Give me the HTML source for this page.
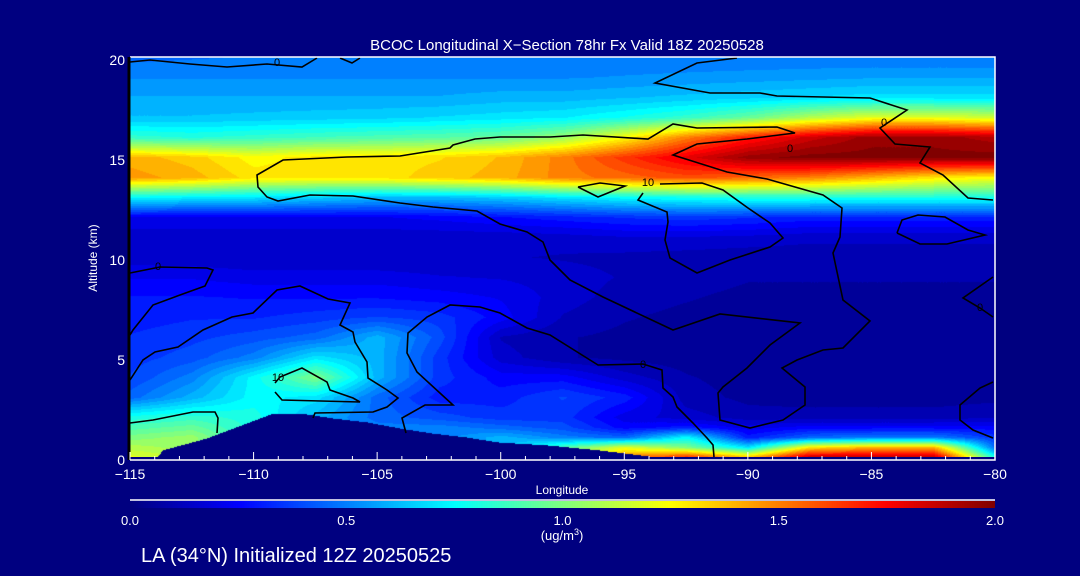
<!DOCTYPE html>
<html><head><meta charset="utf-8"><style>
html,body{margin:0;padding:0;background:#000080;width:1080px;height:576px;overflow:hidden}
#wrap{position:relative;width:1080px;height:576px}
#plot{position:absolute;left:130px;top:57px}
#ov{position:absolute;left:0;top:0}
text{font-family:"Liberation Sans",sans-serif;fill:#fff}
</style></head><body>
<div id="wrap">
<canvas id="plot" width="865" height="400"></canvas>
<canvas id="cbar" width="865" height="7" style="position:absolute;left:130px;top:501px"></canvas>
<svg id="ov" width="1080" height="576"></svg>
</div>
<script>
const lons=[-115,-112.5,-110,-107.5,-105,-102.5,-100,-97.5,-95,-92.5,-90,-87.5,-85,-82.5,-80];
const alts=[0,0.5,1,1.5,2,3,4,5,6,7,8,9,10,11,12,13,14,15,16,17,18,19,20];
const conc=[
[1.2,1.1,0.8,0.6,0.5,0.5,0.6,1.0,1.5,1.7,1.4,1.9,1.9,1.9,0.8],
[1.1,1.05,0.8,0.6,0.5,0.5,0.6,0.9,1.2,1.0,0.7,1.3,1.4,1.4,0.45],
[1.0,1.05,0.8,0.6,0.5,0.5,0.6,0.5,0.45,0.75,0.3,0.45,0.5,0.5,0.35],
[0.9,0.95,0.8,0.6,0.5,0.5,0.45,0.4,0.25,0.3,0.2,0.25,0.25,0.25,0.25],
[0.8,0.85,0.8,0.6,0.45,0.4,0.35,0.35,0.2,0.15,0.1,0.1,0.1,0.1,0.12],
[0.45,0.6,0.75,0.7,0.45,0.3,0.3,0.38,0.3,0.1,0.06,0.05,0.05,0.05,0.06],
[0.38,0.5,0.75,1.0,0.6,0.35,0.25,0.25,0.15,0.08,0.05,0.05,0.05,0.05,0.05],
[0.35,0.4,0.5,0.7,0.6,0.35,0.15,0.08,0.06,0.05,0.05,0.05,0.05,0.05,0.05],
[0.33,0.36,0.4,0.45,0.6,0.4,0.12,0.08,0.06,0.05,0.05,0.05,0.05,0.05,0.05],
[0.3,0.32,0.32,0.35,0.38,0.35,0.25,0.12,0.08,0.06,0.05,0.05,0.05,0.05,0.05],
[0.28,0.28,0.27,0.27,0.27,0.25,0.22,0.15,0.1,0.08,0.06,0.06,0.06,0.06,0.06],
[0.22,0.22,0.2,0.2,0.2,0.18,0.17,0.15,0.12,0.1,0.08,0.08,0.08,0.08,0.08],
[0.15,0.14,0.13,0.13,0.13,0.13,0.13,0.12,0.11,0.1,0.09,0.09,0.09,0.09,0.09],
[0.14,0.14,0.14,0.14,0.14,0.14,0.14,0.15,0.17,0.17,0.16,0.14,0.14,0.14,0.14],
[0.22,0.22,0.22,0.22,0.22,0.24,0.27,0.3,0.33,0.35,0.33,0.3,0.3,0.3,0.3],
[0.75,0.72,0.7,0.65,0.62,0.62,0.65,0.7,0.75,0.78,0.8,0.8,0.8,0.8,0.8],
[1.45,1.4,1.3,1.3,1.3,1.35,1.4,1.5,1.55,1.6,1.55,1.5,1.4,1.3,1.25],
[1.4,1.35,1.25,1.3,1.3,1.32,1.38,1.5,1.65,1.8,1.95,2.0,2.0,2.0,2.0],
[0.85,0.82,0.85,0.88,0.9,0.92,0.95,1.05,1.25,1.5,1.7,1.85,1.95,1.95,1.9],
[0.63,0.63,0.64,0.65,0.66,0.68,0.7,0.72,0.78,0.85,0.95,1.1,1.2,1.2,1.15],
[0.58,0.58,0.58,0.58,0.58,0.58,0.6,0.6,0.62,0.64,0.66,0.68,0.7,0.7,0.7],
[0.52,0.52,0.52,0.52,0.52,0.52,0.52,0.52,0.53,0.54,0.55,0.56,0.57,0.57,0.57],
[0.46,0.47,0.48,0.48,0.48,0.48,0.48,0.48,0.48,0.48,0.48,0.48,0.48,0.48,0.48]];
const terrLon=[-115,-113.9,-113.7,-111.9,-110.5,-109.2,-108.1,-106.8,-105.4,-104.1,-102.8,-101.4,-100.1,-98.1,-96,-94,-80];
const terrAlt=[0,0,0.35,0.95,1.6,2.2,2.2,1.95,1.75,1.45,1.2,1.0,0.75,0.6,0.35,0.05,0];
const xTicks=[-115,-110,-105,-100,-95,-90,-85,-80];
const yTicks=[0,5,10,15,20];
const cbTicks=[0.0,0.5,1.0,1.5,2.0];

const X0=130,X1=995,YB=457,YT=57;
const xs=l=>X0+(l+115)/35*(X1-X0);
const ys=a=>YB-(a/20)*(YB-YT);
function jet(v){const t=Math.max(0,Math.min(1,v/2));const c=x=>Math.max(0,Math.min(1,1.5-Math.abs(x)));
 return [c(4*t-3)*255,c(4*t-2)*255,c(4*t-1)*255];}
function seg(arr,v){let i=0;while(i<arr.length-2&&v>arr[i+1])i++;return [i,Math.max(0,Math.min(1,(v-arr[i])/(arr[i+1]-arr[i])))];}
function val(lon,alt){const [i,fx]=seg(lons,lon),[j,fy]=seg(alts,alt);
 const a=conc[j][i]*(1-fx)+conc[j][i+1]*fx,b=conc[j+1][i]*(1-fx)+conc[j+1][i+1]*fx;return a*(1-fy)+b*fy;}
function terr(lon){const [i,f]=seg(terrLon,lon);return terrAlt[i]*(1-f)+terrAlt[i+1]*f;}
// heatmap
const cv=document.getElementById('plot'),ctx=cv.getContext('2d'),W=cv.width,H=cv.height,img=ctx.createImageData(W,H);
for(let py=0;py<H;py++)for(let px=0;px<W;px++){
 const lon=-115+px/W*35,alt=(H-py)/H*20;let v=val(lon,alt);
 if(alt<terr(lon))v=0;v=Math.round(v/0.05)*0.05;
 const c=jet(v),k=(py*W+px)*4;img.data[k]=c[0];img.data[k+1]=c[1];img.data[k+2]=c[2];img.data[k+3]=255;}
ctx.putImageData(img,0,0);
const cb=document.getElementById('cbar'),cbx=cb.getContext('2d');
for(let px=0;px<cb.width;px++){const c=jet(px/(cb.width-1)*2);cbx.fillStyle=`rgb(${c[0]|0},${c[1]|0},${c[2]|0})`;cbx.fillRect(px,0,1,7);}
// overlay
const svg=document.getElementById('ov'),NS='http://www.w3.org/2000/svg';
function mk(t,at,txt){const e=document.createElementNS(NS,t);for(const k in at)e.setAttribute(k,at[k]);if(txt!==undefined)e.textContent=txt;svg.appendChild(e);return e;}
const contours=[
"130,62 150,60 190,64 227,67 267,64 302,67 317,58",
"340,58 352,63 360,58",
"737,58 697,63 655,83 710,93 760,93 777,96 870,98 907,110 880,128 895,144 930,147 920,163 943,175 968,198 993,200",
"550,137 500,137 475,139 453,145 450,148 400,156 347,157 283,160 257,175 258,187 267,197 278,201 310,195 353,196 400,203 433,207 477,211 500,224 527,232 543,242 550,260 570,280 603,297 673,330 720,314 800,323 770,345 747,368 723,387 718,393 720,420 750,428 783,420 805,405 805,387 782,368 797,360 823,350 843,348 870,321 843,300 833,253 840,237 842,208 823,195 767,179 727,172 673,155 697,144 747,139 795,133 777,127 697,128 673,124 648,139 583,135 550,137",
"578,187 600,183 625,186 598,197 578,187",
"660,184 702,183 723,190 748,208 770,223 783,238 770,247 730,260 697,273 670,258 665,240 668,222 667,212 638,200 643,193",
"897,233 902,220 918,215 945,217 968,230 985,235 947,244 920,244 897,233",
"993,277 963,298 980,308 993,317",
"993,382 980,388 960,405 960,420 973,430 993,438",
"130,273 160,267 207,268 213,270 205,286 180,295 153,305 133,330 130,335",
"130,380 143,360 155,352 178,347 203,330 232,317 253,313 277,290 300,286 328,299 350,303 340,325 353,332 355,342 367,362 368,378 387,390 398,398 387,407 373,412 315,413 313,418",
"406,433 402,418 425,405 453,405 417,372 407,353 408,333 427,317 450,305 480,307 500,313 527,328 550,335 598,365 643,364 662,370 663,388 673,397 677,407 693,423 707,438 713,445 714,457",
"275,392 282,400 360,402 353,398 330,390 327,382 302,368 280,377 275,383",
"130,423 153,420 193,412 215,412 218,418 217,433"];
contours.forEach((p,i)=>{const e=mk('polyline',{points:p,fill:'none',stroke:'#000','stroke-width':1.6});

});
[[277,66,'0'],[158,270,'0'],[278,381,'10'],[790,152,'0'],[648,186,'10'],[884,126,'0'],[643,368,'0'],[980,311,'0'],[855,130,'']].forEach(l=>{if(!l[2])return;
const e=mk('text',{x:l[0],y:l[1],'font-size':11,'text-anchor':'middle',style:'fill:#000'},l[2]);

});
// frame
let e=mk('path',{d:`M${X0} ${YT}H${X1}V${YB+3}H${X0}`,fill:'none',stroke:'#fff','stroke-width':1.5});

e=mk('line',{x1:X0-1,y1:YT,x2:X0-1,y2:YB+3,stroke:'#000','stroke-width':3});

for(let l=-115;l<=-80;l++){const maj=l%5===0;const t=mk('line',{x1:xs(l),x2:xs(l),y1:YB+3,y2:YB+3-(maj?8:4),stroke:'#fff','stroke-width':1});
}
xTicks.forEach(l=>{const t=mk('text',{x:xs(l),y:479,'font-size':14,'text-anchor':'middle'},'\u2212'+Math.abs(l));
});
yTicks.forEach(a=>{const t=mk('text',{x:125,y:ys(a)+8,'font-size':14,'text-anchor':'end'},String(a));
});
e=mk('text',{x:562,y:494,'font-size':12,'text-anchor':'middle'},'Longitude');

e=mk('text',{x:97,y:258,'font-size':12,'text-anchor':'middle',transform:'rotate(-90 97 258)'},'Altitude (km)');

e=mk('text',{x:567,y:50,'font-size':15,'text-anchor':'middle'},'BCOC Longitudinal X\u2212Section 78hr  Fx Valid 18Z 20250528');

e=mk('line',{x1:X0,x2:X1,y1:500,y2:500,stroke:'#fff','stroke-width':1.5});

cbTicks.forEach(v=>{const t=mk('text',{x:X0+v/2*(X1-X0),y:525,'font-size':13,'text-anchor':'middle'},v.toFixed(1));
});
e=mk('text',{x:562,y:540,'font-size':13,'text-anchor':'middle'});
e.innerHTML='(ug/m<tspan dy="-5" font-size="9">3</tspan><tspan dy="5">)</tspan>';

e=mk('text',{x:141,y:562,'font-size':20},'LA (34\u00b0N) Initialized 12Z 20250525');

</script>
</body></html>
